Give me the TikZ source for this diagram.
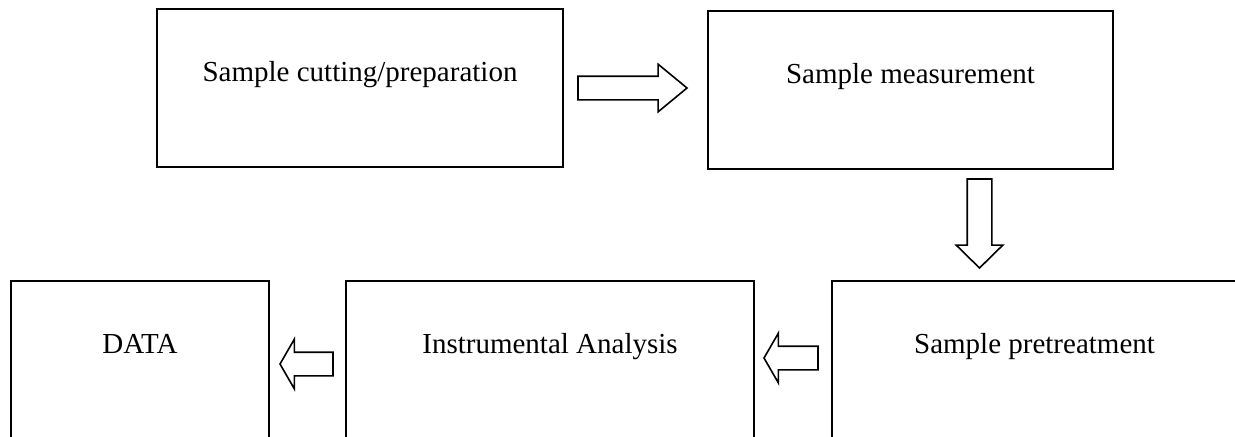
\documentclass[tikz,border=0pt]{standalone}
\usepackage{fontspec}
\setmainfont{Liberation Serif}
\usetikzlibrary{positioning,shapes.arrows}

\begin{document}
\begin{tikzpicture}[x=0.5pt,y=-0.5pt,
                     line width=0.8pt,
                     step box/.style={draw,anchor=north,inner xsep=0pt,inner ysep=0pt,
                       minimum height=79pt,text height=36.5pt,text depth=42.5pt,
                       font=\fontsize{14.5}{17}\selectfont},
                     block arrow/.style={single arrow,draw,anchor=tip,inner xsep=0pt,inner ysep=5.5pt,
                       outer sep=0pt,single arrow head indent=0pt}
                    ]
   \useasboundingbox (0,0) rectangle (1235,436);
   \node[step box,minimum width=203pt] (cut) at (360,8) {Sample cutting/preparation};
   \node[step box,minimum width=202.5pt] (meas) at (910.5,10) {Sample measurement};
   \node[step box,minimum width=202.5pt] (pre) at (1034.5,280) {Sample pretreatment};
   \node[step box,minimum width=204pt] (inst) at (550,280) {Instrumental Analysis};
   \node[step box,minimum width=129pt] (data) at (140,280) {DATA};
   % block arrows between the steps, placed by their tips
   \node[block arrow,minimum height=54.5pt,
         single arrow head extend=6pt,single arrow tip angle=79] (a1) at (687,88) {};
   \node[block arrow,rotate=-90,inner ysep=5.75pt,minimum height=44.5pt,
         single arrow head extend=5.5pt,single arrow tip angle=91] (a2) at (979.5,268) {};
   \node[block arrow,rotate=180,minimum height=27pt,
         single arrow head extend=6.5pt,single arrow tip angle=120] (a3) at (764,358) {};
   \node[block arrow,rotate=180,minimum height=26.5pt,
         single arrow head extend=6.5pt,single arrow tip angle=120] (a4) at (280,364) {};
\end{tikzpicture}
\end{document}
